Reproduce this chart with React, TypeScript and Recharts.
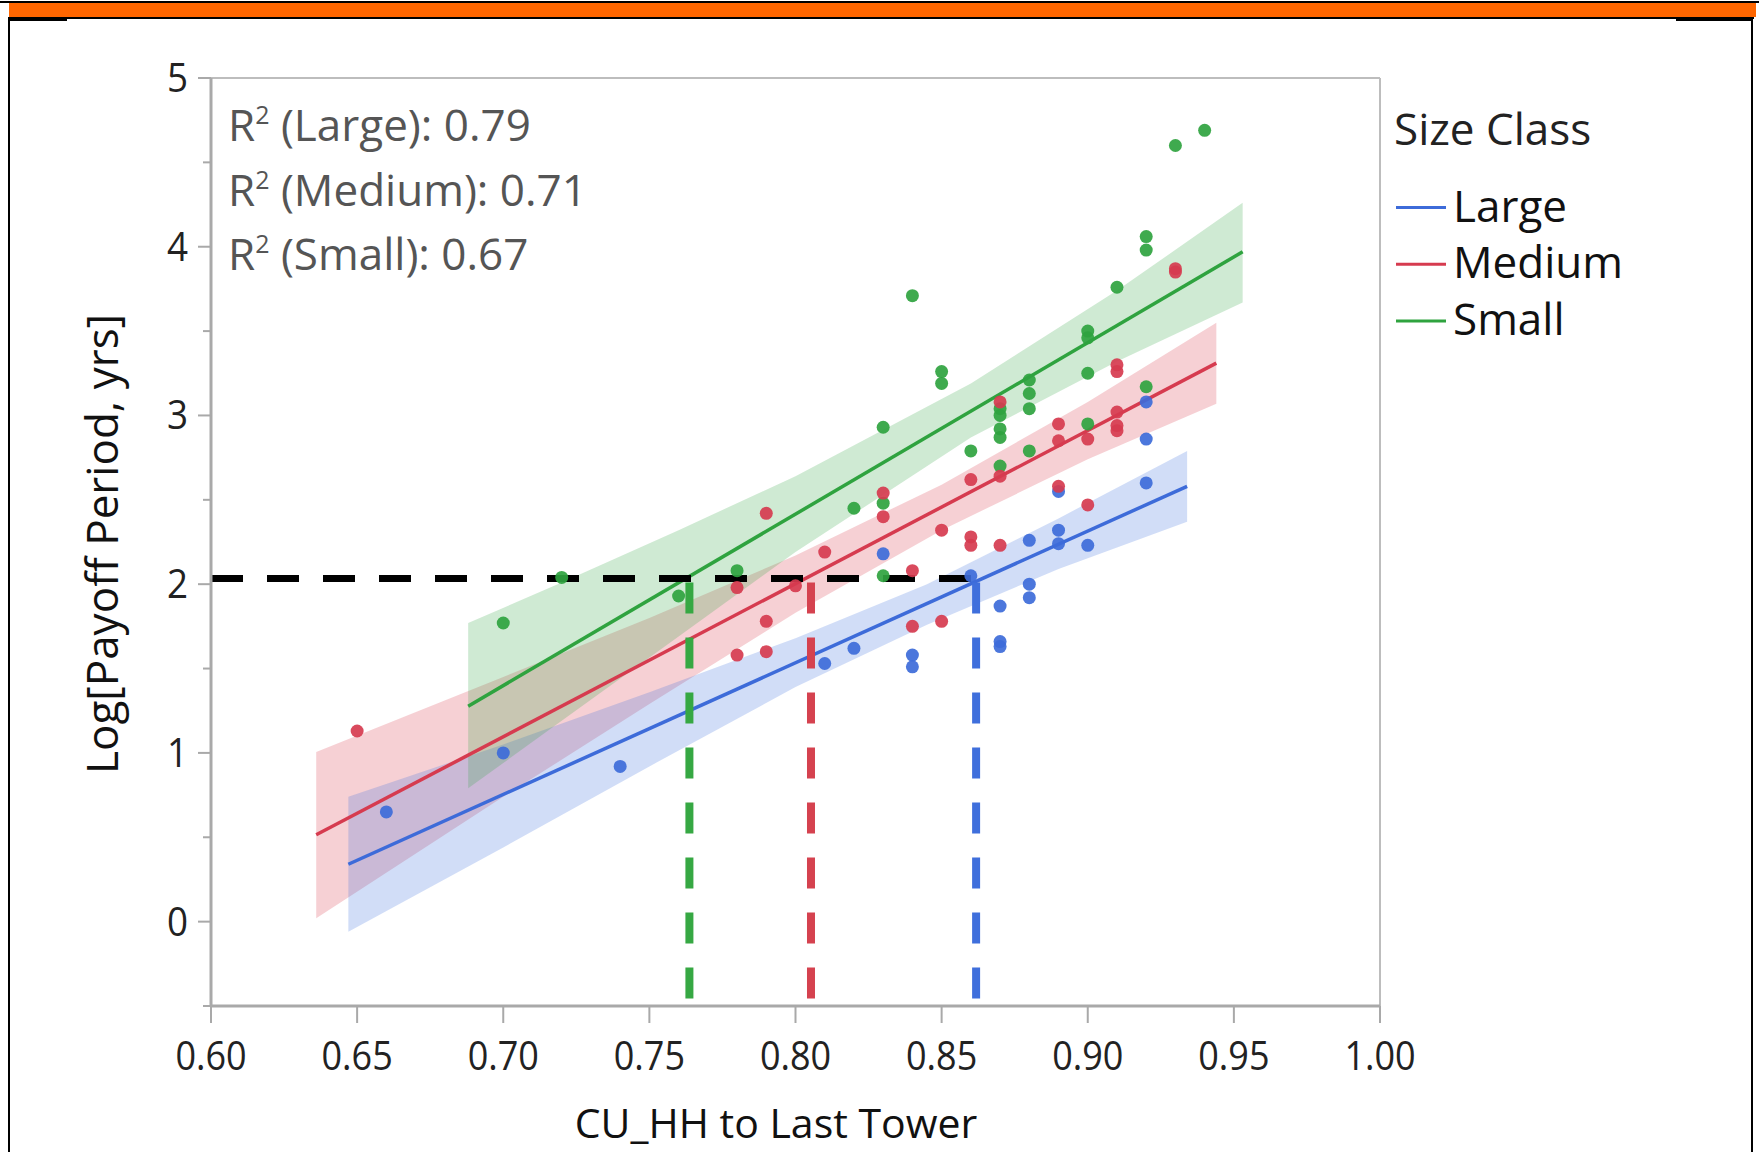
import React from "react";
import { ComposedChart, Area, Line, Scatter, XAxis, YAxis, ReferenceLine } from "recharts";

// ---------- data ----------
const xTicks = [0.6, 0.65, 0.7, 0.75, 0.8, 0.85, 0.9, 0.95, 1.0];
const yTicks = [-0.5, 0, 0.5, 1, 1.5, 2, 2.5, 3, 3.5, 4, 4.5, 5];
const seriesNames = ["Large", "Medium", "Small"];
const r2Values = ["0.79", "0.71", "0.67"];
const legendTitle = "Size Class";
const xTitle = "CU_HH to Last Tower";
const yTitle = "Log[Payoff Period, yrs]";

const largePoints = [
  { x: 0.66, y: 0.65 }, { x: 0.7, y: 1.0 }, { x: 0.74, y: 0.92 }, { x: 0.81, y: 1.53 },
  { x: 0.82, y: 1.62 }, { x: 0.83, y: 2.18 }, { x: 0.84, y: 1.58 }, { x: 0.84, y: 1.51 },
  { x: 0.86, y: 2.05 }, { x: 0.87, y: 1.87 }, { x: 0.87, y: 1.66 }, { x: 0.87, y: 1.63 },
  { x: 0.88, y: 2.26 }, { x: 0.88, y: 2.0 }, { x: 0.88, y: 1.92 }, { x: 0.89, y: 2.55 },
  { x: 0.89, y: 2.32 }, { x: 0.89, y: 2.24 }, { x: 0.9, y: 2.23 }, { x: 0.92, y: 3.08 },
  { x: 0.92, y: 2.86 }, { x: 0.92, y: 2.6 },
];
const mediumPoints = [
  { x: 0.65, y: 1.13 }, { x: 0.78, y: 1.98 }, { x: 0.78, y: 1.58 }, { x: 0.79, y: 2.42 },
  { x: 0.79, y: 1.78 }, { x: 0.79, y: 1.6 }, { x: 0.8, y: 1.99 }, { x: 0.81, y: 2.19 },
  { x: 0.83, y: 2.54 }, { x: 0.83, y: 2.4 }, { x: 0.84, y: 2.08 }, { x: 0.84, y: 1.75 },
  { x: 0.85, y: 2.32 }, { x: 0.85, y: 1.78 }, { x: 0.86, y: 2.62 }, { x: 0.86, y: 2.28 },
  { x: 0.86, y: 2.23 }, { x: 0.87, y: 3.08 }, { x: 0.87, y: 2.64 }, { x: 0.87, y: 2.23 },
  { x: 0.89, y: 2.95 }, { x: 0.89, y: 2.85 }, { x: 0.89, y: 2.58 }, { x: 0.9, y: 2.86 },
  { x: 0.9, y: 2.47 }, { x: 0.91, y: 3.3 }, { x: 0.91, y: 3.26 }, { x: 0.91, y: 3.02 },
  { x: 0.91, y: 2.94 }, { x: 0.91, y: 2.91 }, { x: 0.93, y: 3.87 }, { x: 0.93, y: 3.85 },
];
const smallPoints = [
  { x: 0.7, y: 1.77 }, { x: 0.72, y: 2.04 }, { x: 0.76, y: 1.93 }, { x: 0.78, y: 2.08 },
  { x: 0.82, y: 2.45 }, { x: 0.83, y: 2.93 }, { x: 0.83, y: 2.48 }, { x: 0.83, y: 2.05 },
  { x: 0.84, y: 3.71 }, { x: 0.85, y: 3.26 }, { x: 0.85, y: 3.19 }, { x: 0.86, y: 2.79 },
  { x: 0.87, y: 3.04 }, { x: 0.87, y: 3.0 }, { x: 0.87, y: 2.92 }, { x: 0.87, y: 2.87 },
  { x: 0.87, y: 2.7 }, { x: 0.88, y: 3.21 }, { x: 0.88, y: 3.13 }, { x: 0.88, y: 3.04 },
  { x: 0.88, y: 2.79 }, { x: 0.9, y: 3.5 }, { x: 0.9, y: 3.46 }, { x: 0.9, y: 3.25 },
  { x: 0.9, y: 2.95 }, { x: 0.91, y: 3.76 }, { x: 0.92, y: 4.06 }, { x: 0.92, y: 3.98 },
  { x: 0.92, y: 3.17 }, { x: 0.93, y: 4.6 }, { x: 0.94, y: 4.69 },
];

const largeFit = [{ x: 0.647, y: 0.34 }, { x: 0.934, y: 2.58 }];
const mediumFit = [{ x: 0.636, y: 0.515 }, { x: 0.944, y: 3.31 }];
const smallFit = [{ x: 0.688, y: 1.277 }, { x: 0.953, y: 3.97 }];

const largeBand = [
  { x: 0.647, band: [-0.06, 0.74] }, { x: 0.7, band: [0.44, 1.05] }, { x: 0.75, band: [0.92, 1.36] },
  { x: 0.8, band: [1.39, 1.68] }, { x: 0.845, band: [1.76, 2.0] }, { x: 0.89, band: [2.09, 2.39] },
  { x: 0.934, band: [2.37, 2.79] },
];
const mediumBand = [
  { x: 0.636, band: [0.02, 1.005] }, { x: 0.7, band: [0.74, 1.45] }, { x: 0.75, band: [1.29, 1.8] },
  { x: 0.8, band: [1.83, 2.17] }, { x: 0.85, band: [2.32, 2.59] }, { x: 0.9, band: [2.74, 3.08] },
  { x: 0.944, band: [3.07, 3.55] },
];
const smallBand = [
  { x: 0.688, band: [0.79, 1.77] }, { x: 0.72, band: [1.19, 2.01] }, { x: 0.76, band: [1.69, 2.32] },
  { x: 0.8, band: [2.19, 2.64] }, { x: 0.86, band: [2.87, 3.19] }, { x: 0.91, band: [3.32, 3.74] },
  { x: 0.953, band: [3.67, 4.26] },
];

const thresholdLine = [{ x: 0.6, y: 2.033 }, { x: 0.8618, y: 2.033 }];
const smallDrop = [{ x: 0.7637, y: 2.01 }, { x: 0.7637, y: -0.5 }];
const mediumDrop = [{ x: 0.8053, y: 2.01 }, { x: 0.8053, y: -0.5 }];
const largeDrop = [{ x: 0.8618, y: 2.01 }, { x: 0.8618, y: -0.5 }];

// ---------- style ----------
const FONT = "'Open Sans', 'DejaVu Sans', sans-serif";
const BLUE = "#3d6bd9";
const RED = "#d63b4f";
const GREEN = "#2fa33f";
const AXIS = "#a9a9a9";
const PLOT_LEFT = 211;
const PLOT_BOTTOM = 1006;

const YTick = (props: any) => {
  const { y, payload } = props;
  const v = payload.value;
  const major = Number.isInteger(v);
  return (
    <g>
      <line x1={major ? 198 : 203} x2={PLOT_LEFT} y1={y} y2={y} stroke={AXIS} strokeWidth={2} />
      {major && (
        <text transform={`translate(188, ${y + 14}) scale(0.92, 1)`} textAnchor="end" fontSize={40} fontFamily={FONT} fill="#222">
          {v}
        </text>
      )}
    </g>
  );
};

const XTick = (props: any) => {
  const { x, payload } = props;
  return (
    <g>
      <line x1={x} x2={x} y1={PLOT_BOTTOM} y2={PLOT_BOTTOM + 17} stroke={AXIS} strokeWidth={2} />
      <text transform={`translate(${x}, 1070) scale(0.9, 1)`} textAnchor="middle" fontSize={40} fontFamily={FONT} fill="#222">
        {payload.value.toFixed(2)}
      </text>
    </g>
  );
};

const dot = (color: string) => (p: any) => (
  <circle cx={p.cx} cy={p.cy} r={6.5} fill={color} fillOpacity={0.92} />
);

const seriesColors = [BLUE, RED, GREEN];

export default function App() {
  return (
    <div style={{ position: "absolute", left: 0, top: 0, width: 1759, height: 1152, background: "#fff", overflow: "hidden" }}>
      {/* header bar and frame */}
      <div style={{ position: "absolute", left: 0, top: 1, width: 1759, height: 2, background: "#000" }} />
      <div style={{ position: "absolute", left: 9, top: 3, width: 1747, height: 14, background: "#ff6600" }} />
      <div style={{ position: "absolute", left: 9, top: 17, width: 1745, height: 2, background: "#000" }} />
      <div style={{ position: "absolute", left: 10, top: 19, width: 57, height: 2, background: "#000" }} />
      <div style={{ position: "absolute", left: 1676, top: 19, width: 76, height: 2, background: "#000" }} />
      <div style={{ position: "absolute", left: 8, top: 17, width: 2, height: 1135, background: "#000" }} />
      <div style={{ position: "absolute", left: 1751, top: 17, width: 2, height: 1135, background: "#000" }} />

      <div style={{ position: "absolute", left: 0, top: 0 }}>
        <ComposedChart width={1759} height={1152} margin={{ top: 78, right: 379, bottom: 0, left: 0 }}>
          <XAxis
            type="number"
            dataKey="x"
            domain={[0.6, 1.0]}
            ticks={xTicks}
            interval={0}
            allowDataOverflow
            height={146}
            axisLine={{ stroke: AXIS, strokeWidth: 3 }}
            tickLine={false}
            tick={<XTick />}
          />
          <YAxis
            type="number"
            domain={[-0.5, 5]}
            ticks={yTicks}
            interval={0}
            allowDataOverflow
            width={211}
            axisLine={{ stroke: AXIS, strokeWidth: 3 }}
            tickLine={false}
            tick={<YTick />}
          />
          <ReferenceLine y={5} stroke="#bdbdbd" strokeWidth={2} ifOverflow="visible" />
          <ReferenceLine x={1.0} stroke="#bdbdbd" strokeWidth={2} ifOverflow="visible" />

          <Area data={mediumBand} dataKey="band" type="linear" stroke="none" fill="#d83a4c" fillOpacity={0.24} isAnimationActive={false} />
          <Area data={largeBand} dataKey="band" type="linear" stroke="none" fill="#4070dc" fillOpacity={0.24} isAnimationActive={false} />
          <Area data={smallBand} dataKey="band" type="linear" stroke="none" fill="#35a845" fillOpacity={0.24} isAnimationActive={false} />

          <Line data={largeFit} dataKey="y" stroke={BLUE} strokeWidth={3.5} dot={false} isAnimationActive={false} />
          <Line data={mediumFit} dataKey="y" stroke={RED} strokeWidth={3.5} dot={false} isAnimationActive={false} />
          <Line data={smallFit} dataKey="y" stroke={GREEN} strokeWidth={3.5} dot={false} isAnimationActive={false} />

          <Scatter data={smallPoints} dataKey="y" shape={dot(GREEN)} isAnimationActive={false} />
          <Scatter data={largePoints} dataKey="y" shape={dot(BLUE)} isAnimationActive={false} />
          <Scatter data={mediumPoints} dataKey="y" shape={dot(RED)} isAnimationActive={false} />

          <Line data={thresholdLine} dataKey="y" stroke="#000" strokeWidth={7} strokeDasharray="32 24" dot={false} isAnimationActive={false} />
          <Line data={smallDrop} dataKey="y" stroke="#36a843" strokeWidth={8} strokeDasharray="31 24" dot={false} isAnimationActive={false} />
          <Line data={mediumDrop} dataKey="y" stroke="#d5424f" strokeWidth={8} strokeDasharray="31 24" dot={false} isAnimationActive={false} />
          <Line data={largeDrop} dataKey="y" stroke="#3f6fdc" strokeWidth={8} strokeDasharray="31 24" dot={false} isAnimationActive={false} />
        </ComposedChart>
      </div>

      {/* titles, annotations, legend */}
      <svg width={1759} height={1152} style={{ position: "absolute", left: 0, top: 0, pointerEvents: "none" }}>
        <text x={776} y={1138} textAnchor="middle" fontSize={41} fontFamily={FONT} fill="#111">
          {xTitle}
        </text>
        <text transform="translate(118, 544) rotate(-90)" textAnchor="middle" fontSize={44} fontFamily={FONT} fill="#111">
          {yTitle}
        </text>
        {seriesNames.map((n, i) => (
          <text key={n} x={228} y={141 + i * 64.5} fontSize={44} fontFamily={FONT} fill="#555">
            <tspan>R</tspan>
            <tspan dy={-17} fontSize={25}>2</tspan>
            <tspan dy={17}>{` (${n}): ${r2Values[i]}`}</tspan>
          </text>
        ))}
        <text x={1394} y={145} fontSize={44} fontFamily={FONT} fill="#222">
          {legendTitle}
        </text>
        {seriesNames.map((n, i) => (
          <g key={n}>
            <line x1={1396} x2={1446} y1={207.5 + i * 56.7} y2={207.5 + i * 56.7} stroke={seriesColors[i]} strokeWidth={3} />
            <text x={1453} y={221.7 + i * 56.7} fontSize={44} fontFamily={FONT} fill="#111">
              {n}
            </text>
          </g>
        ))}
      </svg>
    </div>
  );
}
